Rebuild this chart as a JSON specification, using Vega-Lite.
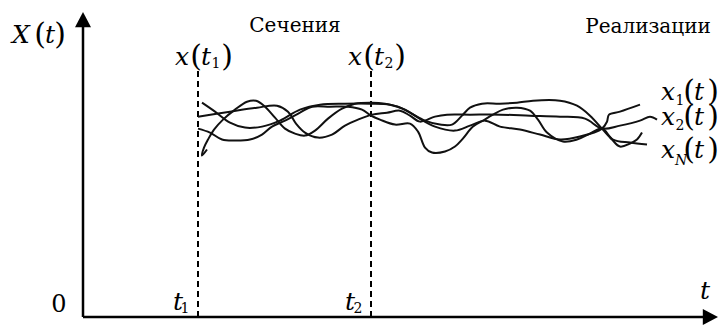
{
  "$schema": "https://vega.github.io/schema/vega-lite/v6.json",
  "width": 721,
  "height": 325,
  "padding": 0,
  "autosize": {"type": "fit", "contains": "padding"},
  "background": "white",
  "view": {"stroke": null},
  "config": {"font": "DejaVu Serif"},
  "datasets": {
    "real": [
      {"id": "A", "i": 1, "t": 119, "X": 215}, {"id": "A", "i": 2, "t": 132, "X": 206}, {"id": "A", "i": 3, "t": 147, "X": 195}, {"id": "A", "i": 4, "t": 162, "X": 190}, {"id": "A", "i": 5, "t": 179, "X": 191}, {"id": "A", "i": 6, "t": 197, "X": 197}, {"id": "A", "i": 7, "t": 217, "X": 208}, {"id": "A", "i": 8, "t": 237, "X": 213}, {"id": "A", "i": 9, "t": 262, "X": 214}, {"id": "A", "i": 10, "t": 287, "X": 214}, {"id": "A", "i": 11, "t": 307, "X": 213}, {"id": "A", "i": 12, "t": 322, "X": 208}, {"id": "A", "i": 13, "t": 335, "X": 200}, {"id": "A", "i": 14, "t": 352, "X": 191}, {"id": "A", "i": 15, "t": 372, "X": 187}, {"id": "A", "i": 16, "t": 387, "X": 192}, {"id": "A", "i": 17, "t": 402, "X": 197}, {"id": "A", "i": 18, "t": 417, "X": 191}, {"id": "A", "i": 19, "t": 437, "X": 188}, {"id": "A", "i": 20, "t": 457, "X": 183}, {"id": "A", "i": 21, "t": 477, "X": 178}, {"id": "A", "i": 22, "t": 497, "X": 181}, {"id": "A", "i": 23, "t": 519, "X": 189}, {"id": "A", "i": 24, "t": 524, "X": 196}, {"id": "A", "i": 25, "t": 526, "X": 203}, {"id": "A", "i": 26, "t": 537, "X": 206}, {"id": "A", "i": 27, "t": 557, "X": 213},
      {"id": "B", "i": 1, "t": 115, "X": 201}, {"id": "B", "i": 2, "t": 147, "X": 206}, {"id": "B", "i": 3, "t": 174, "X": 210}, {"id": "B", "i": 4, "t": 194, "X": 212}, {"id": "B", "i": 5, "t": 205, "X": 206}, {"id": "B", "i": 6, "t": 213, "X": 194}, {"id": "B", "i": 7, "t": 222, "X": 185}, {"id": "B", "i": 8, "t": 235, "X": 180}, {"id": "B", "i": 9, "t": 249, "X": 183}, {"id": "B", "i": 10, "t": 262, "X": 192}, {"id": "B", "i": 11, "t": 275, "X": 198}, {"id": "B", "i": 12, "t": 289, "X": 203}, {"id": "B", "i": 13, "t": 304, "X": 205}, {"id": "B", "i": 14, "t": 317, "X": 207}, {"id": "B", "i": 15, "t": 327, "X": 202}, {"id": "B", "i": 16, "t": 337, "X": 196}, {"id": "B", "i": 17, "t": 352, "X": 201}, {"id": "B", "i": 18, "t": 364, "X": 203}, {"id": "B", "i": 19, "t": 387, "X": 203}, {"id": "B", "i": 20, "t": 417, "X": 203}, {"id": "B", "i": 21, "t": 447, "X": 202}, {"id": "B", "i": 22, "t": 477, "X": 201}, {"id": "B", "i": 23, "t": 502, "X": 199}, {"id": "B", "i": 24, "t": 519, "X": 189}, {"id": "B", "i": 25, "t": 537, "X": 192}, {"id": "B", "i": 26, "t": 557, "X": 197}, {"id": "B", "i": 27, "t": 567, "X": 201}, {"id": "B", "i": 28, "t": 574, "X": 198},
      {"id": "C", "i": 1, "t": 115, "X": 189}, {"id": "C", "i": 2, "t": 127, "X": 185}, {"id": "C", "i": 3, "t": 139, "X": 178}, {"id": "C", "i": 4, "t": 152, "X": 177}, {"id": "C", "i": 5, "t": 167, "X": 178}, {"id": "C", "i": 6, "t": 179, "X": 183}, {"id": "C", "i": 7, "t": 189, "X": 191}, {"id": "C", "i": 8, "t": 202, "X": 197}, {"id": "C", "i": 9, "t": 217, "X": 205}, {"id": "C", "i": 10, "t": 229, "X": 211}, {"id": "C", "i": 11, "t": 247, "X": 211}, {"id": "C", "i": 12, "t": 265, "X": 211}, {"id": "C", "i": 13, "t": 279, "X": 208}, {"id": "C", "i": 14, "t": 288, "X": 202}, {"id": "C", "i": 15, "t": 297, "X": 198}, {"id": "C", "i": 16, "t": 312, "X": 193}, {"id": "C", "i": 17, "t": 327, "X": 194}, {"id": "C", "i": 18, "t": 335, "X": 186}, {"id": "C", "i": 19, "t": 342, "X": 170}, {"id": "C", "i": 20, "t": 349, "X": 165}, {"id": "C", "i": 21, "t": 362, "X": 166}, {"id": "C", "i": 22, "t": 372, "X": 171}, {"id": "C", "i": 23, "t": 379, "X": 178}, {"id": "C", "i": 24, "t": 390, "X": 191}, {"id": "C", "i": 25, "t": 400, "X": 197}, {"id": "C", "i": 26, "t": 410, "X": 203}, {"id": "C", "i": 27, "t": 420, "X": 208}, {"id": "C", "i": 28, "t": 434, "X": 210}, {"id": "C", "i": 29, "t": 447, "X": 207}, {"id": "C", "i": 30, "t": 455, "X": 198}, {"id": "C", "i": 31, "t": 464, "X": 185}, {"id": "C", "i": 32, "t": 480, "X": 176}, {"id": "C", "i": 33, "t": 494, "X": 178}, {"id": "C", "i": 34, "t": 507, "X": 184}, {"id": "C", "i": 35, "t": 519, "X": 189}, {"id": "C", "i": 36, "t": 530, "X": 178}, {"id": "C", "i": 37, "t": 547, "X": 175}, {"id": "C", "i": 38, "t": 564, "X": 173},
      {"id": "D", "i": 1, "t": 124, "X": 168}, {"id": "D", "i": 2, "t": 119, "X": 162}, {"id": "D", "i": 3, "t": 121, "X": 170}, {"id": "D", "i": 4, "t": 125, "X": 178}, {"id": "D", "i": 5, "t": 131, "X": 188}, {"id": "D", "i": 6, "t": 140, "X": 198}, {"id": "D", "i": 7, "t": 152, "X": 208}, {"id": "D", "i": 8, "t": 164, "X": 216}, {"id": "D", "i": 9, "t": 173, "X": 217}, {"id": "D", "i": 10, "t": 181, "X": 212}, {"id": "D", "i": 11, "t": 192, "X": 200}, {"id": "D", "i": 12, "t": 202, "X": 189}, {"id": "D", "i": 13, "t": 212, "X": 184}, {"id": "D", "i": 14, "t": 222, "X": 182}, {"id": "D", "i": 15, "t": 232, "X": 187}, {"id": "D", "i": 16, "t": 245, "X": 199}, {"id": "D", "i": 17, "t": 259, "X": 209}, {"id": "D", "i": 18, "t": 272, "X": 214}, {"id": "D", "i": 19, "t": 289, "X": 215}, {"id": "D", "i": 20, "t": 302, "X": 214}, {"id": "D", "i": 21, "t": 315, "X": 211}, {"id": "D", "i": 22, "t": 327, "X": 205}, {"id": "D", "i": 23, "t": 342, "X": 197}, {"id": "D", "i": 24, "t": 357, "X": 193}, {"id": "D", "i": 25, "t": 369, "X": 193}, {"id": "D", "i": 26, "t": 379, "X": 202}, {"id": "D", "i": 27, "t": 387, "X": 210}, {"id": "D", "i": 28, "t": 399, "X": 214}, {"id": "D", "i": 29, "t": 417, "X": 214}, {"id": "D", "i": 30, "t": 434, "X": 215}, {"id": "D", "i": 31, "t": 450, "X": 217}, {"id": "D", "i": 32, "t": 477, "X": 217}, {"id": "D", "i": 33, "t": 494, "X": 212}, {"id": "D", "i": 34, "t": 507, "X": 202}, {"id": "D", "i": 35, "t": 519, "X": 189}, {"id": "D", "i": 36, "t": 529, "X": 178}, {"id": "D", "i": 37, "t": 537, "X": 171}, {"id": "D", "i": 38, "t": 547, "X": 174}, {"id": "D", "i": 39, "t": 554, "X": 178}, {"id": "D", "i": 40, "t": 559, "X": 185}
    ],
    "axes": [
      {"t": 0, "X": 0, "t2": 0, "X2": 292},
      {"t": 0, "X": 0, "t2": 621, "X2": 0}
    ],
    "sections": [
      {"t": 115, "X": 0, "t2": 115, "X2": 250},
      {"t": 288, "X": 0, "t2": 288, "X2": 250}
    ],
    "arrowY": [{"t": 0, "X": 298}],
    "arrowX": [{"t": 627, "X": 0}],
    "mathItalic": [
      {"t": -62, "X": 275, "s": "X"}, {"t": -33, "X": 275, "s": "t"},
      {"t": 99, "X": 253, "s": "x"}, {"t": 123, "X": 253, "s": "t"},
      {"t": 272, "X": 253, "s": "x"}, {"t": 296, "X": 253, "s": "t"},
      {"t": 585, "X": 218, "s": "x"}, {"t": 616, "X": 218, "s": "t"},
      {"t": 585, "X": 193, "s": "x"}, {"t": 616, "X": 193, "s": "t"},
      {"t": 585, "X": 160, "s": "x"}, {"t": 616, "X": 160, "s": "t"},
      {"t": 95, "X": 7, "s": "t"}, {"t": 267, "X": 7, "s": "t"},
      {"t": 622, "X": 18, "s": "t"}
    ],
    "parens": [
      {"t": -43, "X": 274, "s": "("}, {"t": -23, "X": 274, "s": ")"},
      {"t": 113, "X": 252, "s": "("}, {"t": 144, "X": 252, "s": ")"},
      {"t": 286, "X": 252, "s": "("}, {"t": 317, "X": 252, "s": ")"},
      {"t": 606, "X": 217, "s": "("}, {"t": 630, "X": 217, "s": ")"},
      {"t": 606, "X": 192, "s": "("}, {"t": 630, "X": 192, "s": ")"},
      {"t": 606, "X": 159, "s": "("}, {"t": 630, "X": 159, "s": ")"}
    ],
    "subs": [
      {"t": 133, "X": 250, "s": "1"}, {"t": 306, "X": 250, "s": "2"},
      {"t": 597, "X": 213, "s": "1"}, {"t": 597, "X": 188, "s": "2"},
      {"t": 102, "X": 4, "s": "1"}, {"t": 275, "X": 4, "s": "2"}
    ],
    "subItalic": [{"t": 598, "X": 152, "s": "N"}],
    "zero": [{"t": -24, "X": 5, "s": "0"}],
    "words": [
      {"t": 212, "X": 286, "s": "Сечения"},
      {"t": 565, "X": 285, "s": "Реализации"}
    ]
  },
  "encoding": {
    "x": {"field": "t", "type": "quantitative", "axis": null, "scale": {"domain": [-83, 638], "nice": false, "zero": false}},
    "y": {"field": "X", "type": "quantitative", "axis": null, "scale": {"domain": [-7, 318], "nice": false, "zero": false}}
  },
  "layer": [
    {
      "data": {"name": "axes"},
      "mark": {"type": "rule", "color": "black", "strokeWidth": 2.5},
      "encoding": {"x2": {"field": "t2"}, "y2": {"field": "X2"}}
    },
    {
      "data": {"name": "sections"},
      "mark": {"type": "rule", "color": "black", "strokeWidth": 2, "strokeDash": [6, 4]},
      "encoding": {"x2": {"field": "t2"}, "y2": {"field": "X2"}}
    },
    {
      "data": {"name": "arrowY"},
      "mark": {"type": "point", "filled": true, "color": "black", "opacity": 1, "size": 256, "shape": "M0,-1L1,0.9L-1,0.9Z"}
    },
    {
      "data": {"name": "arrowX"},
      "mark": {"type": "point", "filled": true, "color": "black", "opacity": 1, "size": 256, "shape": "M1,0L-0.9,1L-0.9,-1Z"}
    },
    {
      "data": {"name": "real"},
      "mark": {"type": "line", "color": "#111", "strokeWidth": 2, "interpolate": "catmull-rom"},
      "encoding": {"detail": {"field": "id"}, "order": {"field": "i", "type": "quantitative"}}
    },
    {
      "data": {"name": "mathItalic"},
      "mark": {"type": "text", "font": "DejaVu Serif", "fontStyle": "italic", "fontSize": 25, "align": "center", "baseline": "alphabetic", "color": "black"},
      "encoding": {"text": {"field": "s"}}
    },
    {
      "data": {"name": "parens"},
      "mark": {"type": "text", "font": "DejaVu Serif", "fontSize": 30, "align": "center", "baseline": "alphabetic", "color": "black"},
      "encoding": {"text": {"field": "s"}}
    },
    {
      "data": {"name": "subs"},
      "mark": {"type": "text", "font": "DejaVu Serif", "fontSize": 14, "align": "center", "baseline": "alphabetic", "color": "black"},
      "encoding": {"text": {"field": "s"}}
    },
    {
      "data": {"name": "subItalic"},
      "mark": {"type": "text", "font": "DejaVu Serif", "fontStyle": "italic", "fontSize": 14, "align": "center", "baseline": "alphabetic", "color": "black"},
      "encoding": {"text": {"field": "s"}}
    },
    {
      "data": {"name": "zero"},
      "mark": {"type": "text", "font": "DejaVu Serif", "fontSize": 24, "align": "center", "baseline": "alphabetic", "color": "black"},
      "encoding": {"text": {"field": "s"}}
    },
    {
      "data": {"name": "words"},
      "mark": {"type": "text", "font": "DejaVu Serif", "fontSize": 20, "align": "center", "baseline": "alphabetic", "color": "black"},
      "encoding": {"text": {"field": "s"}}
    }
  ]
}
